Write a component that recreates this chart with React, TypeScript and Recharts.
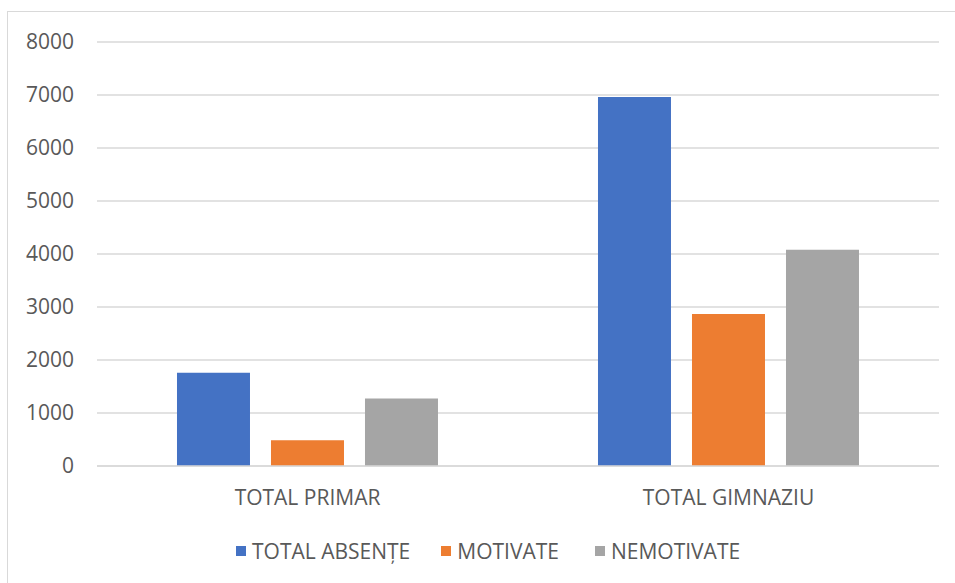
import React from "react";
import { BarChart, Bar, XAxis, YAxis, CartesianGrid, Legend } from "recharts";

const categories = ["TOTAL PRIMAR", "TOTAL GIMNAZIU"];
const totalAbsente = [1760, 6960];
const motivate = [485, 2870];
const nemotivate = [1275, 4080];
const yTicks = [0, 1000, 2000, 3000, 4000, 5000, 6000, 7000, 8000];

const seriesNames = ["TOTAL ABSENȚE", "MOTIVATE", "NEMOTIVATE"];
const colors = ["#4472C4", "#ED7D31", "#A5A5A5"];

const data = categories.map((c, i) => ({
  name: c,
  a: totalAbsente[i],
  m: motivate[i],
  n: nemotivate[i],
}));

const FONT = "'Open Sans', 'Noto Sans', sans-serif";
const legendGaps = [31, 36, 0];

const LegendContent = () => (
  <div
    style={{
      display: "flex",
      justifyContent: "flex-start",
      alignItems: "center",
      height: 24,
      paddingLeft: 236,
      fontFamily: FONT,
      fontSize: 21,
      color: "#595959",
    }}
  >
    {seriesNames.map((s, i) => (
      <div key={s} style={{ display: "flex", alignItems: "center", marginRight: legendGaps[i] }}>
        <div style={{ width: 10, height: 10, background: colors[i], marginRight: 6 }} />
        <span>{s}</span>
      </div>
    ))}
  </div>
);

export default function App() {
  return (
    <div style={{ position: "absolute", left: 0, top: 0, width: 955, height: 583, background: "#fff" }}>
      <div
        style={{
          position: "absolute",
          left: 7,
          top: 11,
          width: 948,
          height: 572,
          borderTop: "1.5px solid #d9d9d9",
          borderLeft: "1.5px solid #d9d9d9",
          boxSizing: "border-box",
        }}
      />
      <div style={{ position: "absolute", left: 0, top: 0 }}>
        <BarChart
          width={955}
          height={583}
          data={data}
          margin={{ top: 42, right: 16, bottom: 53, left: 0 }}
          barCategoryGap="19%"
          barGap={21}
        >
          <CartesianGrid horizontal vertical={false} stroke="#d9d9d9" strokeWidth={1.3} />
          <XAxis
            dataKey="name"
            height={40}
            tickLine={false}
            axisLine={{ stroke: "#d9d9d9", strokeWidth: 1.3 }}
            tick={{ fill: "#595959", fontSize: 21, fontFamily: FONT }}
            tickMargin={18}
          />
          <YAxis
            width={97}
            domain={[0, 8000]}
            ticks={yTicks}
            axisLine={false}
            tickLine={false}
            tickSize={8}
            tickMargin={15}
            tick={{ fill: "#595959", fontSize: 21, fontFamily: FONT }}
          />
          <Legend
            verticalAlign="bottom"
            content={<LegendContent />}
            wrapperStyle={{ position: "absolute", top: 539, left: 0, width: 955, height: 24 }}
          />
          <Bar dataKey="a" name={seriesNames[0]} fill={colors[0]} isAnimationActive={false} />
          <Bar dataKey="m" name={seriesNames[1]} fill={colors[1]} isAnimationActive={false} />
          <Bar dataKey="n" name={seriesNames[2]} fill={colors[2]} isAnimationActive={false} />
        </BarChart>
      </div>
    </div>
  );
}
